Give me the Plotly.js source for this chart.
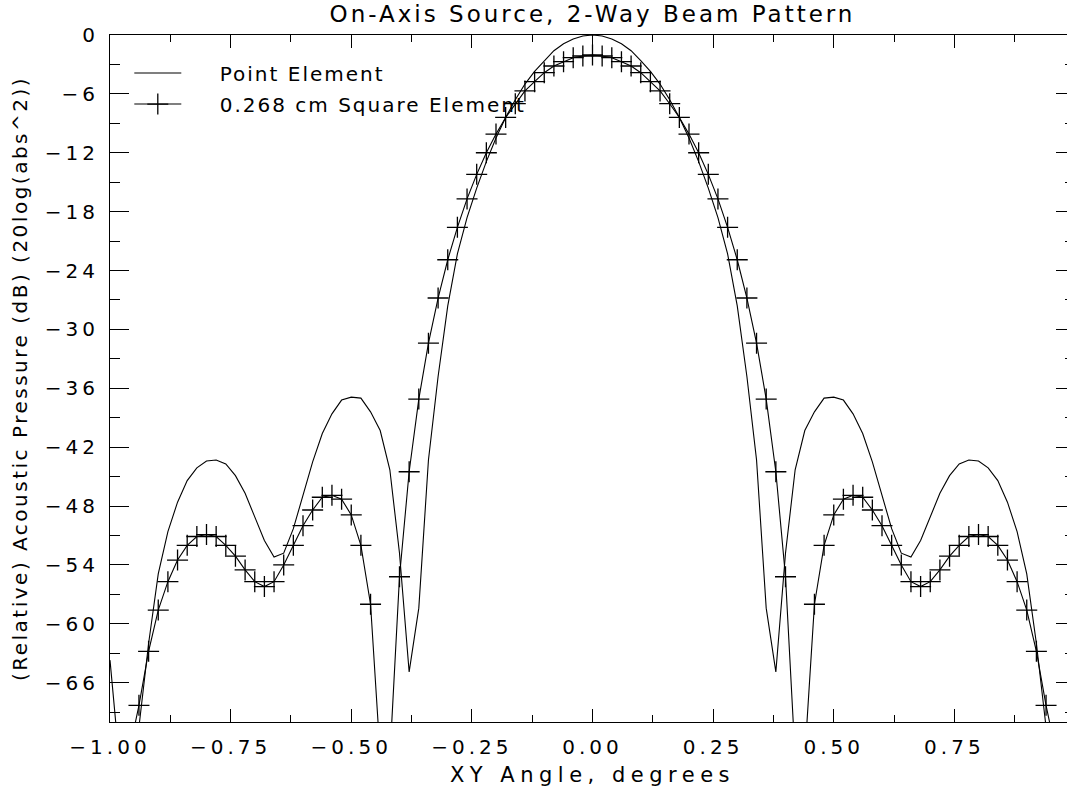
<!DOCTYPE html>
<html>
<head>
<meta charset="utf-8">
<script src="https://cdn.plot.ly/plotly-3.0.1.min.js"></script>
<style>
  html, body { margin: 0; padding: 0; overflow: hidden; background: #fff; }
  #chart { width: 1090px; height: 791px; }
  .gtitle { letter-spacing: 3px; }
  .xtitle { letter-spacing: 5.5px; }
  .ytitle { letter-spacing: 2.5px; }
  .legendtext { letter-spacing: 2px; }
  .xtick text, .ytick text { letter-spacing: 4px; }
</style>
</head>
<body>
<div id="chart"></div>
<script>
// XY angle samples (degrees)
const angles = [-1.00,-0.98,-0.96,-0.94,-0.92,-0.90,-0.88,-0.86,-0.84,-0.82,-0.80,-0.78,-0.76,-0.74,-0.72,-0.70,-0.68,-0.66,-0.64,-0.62,-0.60,-0.58,-0.56,-0.54,-0.52,-0.50,-0.48,-0.46,-0.44,-0.42,-0.40,-0.38,-0.36,-0.34,-0.32,-0.30,-0.28,-0.26,-0.24,-0.22,-0.20,-0.18,-0.16,-0.14,-0.12,-0.10,-0.08,-0.06,-0.04,-0.02,0.00,0.02,0.04,0.06,0.08,0.10,0.12,0.14,0.16,0.18,0.20,0.22,0.24,0.26,0.28,0.30,0.32,0.34,0.36,0.38,0.40,0.42,0.44,0.46,0.48,0.50,0.52,0.54,0.56,0.58,0.60,0.62,0.64,0.66,0.68,0.70,0.72,0.74,0.76,0.78,0.80,0.82,0.84,0.86,0.88,0.90,0.92,0.94,0.96,0.98,1.00];

// Point Element, relative dB
const pointElement = [-63.7,-75.8,-85.0,-70.5,-62.0,-54.9,-50.6,-47.6,-45.4,-44.1,-43.4,-43.3,-43.7,-44.9,-46.7,-49.1,-51.5,-53.2,-52.8,-50.3,-46.9,-43.5,-40.6,-38.6,-37.2,-36.9,-37.0,-38.4,-40.3,-44.3,-52.8,-64.9,-58.4,-43.3,-34.8,-27.6,-22.3,-18.6,-15.6,-12.9,-10.5,-8.4,-6.6,-5.0,-3.7,-2.6,-1.6,-0.9,-0.4,-0.1,0.0,-0.1,-0.4,-0.9,-1.6,-2.6,-3.7,-5.0,-6.6,-8.4,-10.5,-12.9,-15.6,-18.6,-22.3,-27.6,-34.8,-43.3,-58.4,-64.9,-52.8,-44.3,-40.3,-38.4,-37.0,-36.9,-37.2,-38.6,-40.6,-43.5,-46.9,-50.3,-52.8,-53.2,-51.5,-49.1,-46.7,-44.9,-43.7,-43.3,-43.4,-44.1,-45.4,-47.6,-50.6,-54.9,-62.0,-70.5,-85.0,-75.8,-63.7];

// 0.268 cm Square Element, relative dB
const squareElement = [-78.0,-80.0,-73.0,-68.3,-62.8,-58.6,-55.7,-53.5,-52.0,-51.1,-50.9,-51.1,-52.0,-53.1,-54.5,-55.7,-56.2,-55.7,-54.0,-52.0,-50.0,-48.4,-47.1,-46.9,-47.3,-48.9,-52.0,-58.0,-73.5,-73.7,-55.2,-44.5,-37.1,-31.4,-26.8,-22.9,-19.6,-16.7,-14.2,-12.0,-10.1,-8.4,-7.0,-5.7,-4.76,-3.84,-3.16,-2.72,-2.31,-2.14,-2.04,-2.14,-2.31,-2.72,-3.16,-3.84,-4.76,-5.7,-7.0,-8.4,-10.1,-12.0,-14.2,-16.7,-19.6,-22.9,-26.8,-31.4,-37.1,-44.5,-55.2,-73.7,-73.5,-58.0,-52.0,-48.9,-47.3,-46.9,-47.1,-48.4,-50.0,-52.0,-54.0,-55.7,-56.2,-55.7,-54.5,-53.1,-52.0,-51.1,-50.9,-51.1,-52.0,-53.5,-55.7,-58.6,-62.8,-68.3,-73.0,-80.0,-78.0];

const xTickVals = [-1.00,-0.75,-0.50,-0.25,0.00,0.25,0.50,0.75];
const yTickVals = [0,-6,-12,-18,-24,-30,-36,-42,-48,-54,-60,-66];

const seriesNames = ['Point Element', '0.268 cm Square Element'];

const FONT = 'DejaVu Sans, sans-serif';
const PAD = '\u00a0\u00a0\u00a0\u00a0';

const traces = [
  {
    x: angles, y: pointElement, name: PAD + seriesNames[0], legendgroup: 'a',
    type: 'scatter', mode: 'lines',
    line: {color: '#000', width: 1.1}
  },
  {
    x: angles, y: squareElement, name: PAD + seriesNames[1], legendgroup: 'b',
    type: 'scatter', mode: 'lines+markers',
    line: {color: '#000', width: 1.1},
    marker: {symbol: 'cross-thin', size: 15, color: '#000', line: {color: '#000', width: 1.3}}
  }
];

const layout = {
  width: 1090, height: 791,
  margin: {l: 110, r: 15, t: 35, b: 69},
  paper_bgcolor: '#fff', plot_bgcolor: '#fff',
  font: {family: FONT, color: '#000', size: 18},
  title: {
    text: 'On-Axis Source, 2-Way Beam Pattern',
    font: {family: FONT, size: 23, color: '#000'},
    x: 0.5, xref: 'paper', xanchor: 'center',
    y: 1 - 14/791, yref: 'container', yanchor: 'middle'
  },
  showlegend: true,
  legend: {
    x: 0.020, y: 0.973, xanchor: 'left', yanchor: 'top',
    bgcolor: 'rgba(0,0,0,0)', borderwidth: 0,
    itemwidth: 47,
    traceorder: 'grouped', tracegroupgap: 2,
    font: {family: FONT, size: 20, color: '#000'}
  },
  xaxis: {
    range: [-1, 1], showgrid: false, zeroline: false,
    showline: true, linecolor: '#000', linewidth: 1, mirror: 'ticks',
    tickmode: 'array', tickvals: xTickVals, tickformat: '.2f',
    ticks: 'inside', ticklen: 13, tickwidth: 1, tickcolor: '#000',
    ticklabelstandoff: 7,
    tickfont: {family: FONT, size: 20, color: '#000'},
    minor: {tickmode: 'linear', tick0: -1, dtick: 0.125, ticks: 'inside', ticklen: 7, tickwidth: 1, tickcolor: '#000', showgrid: false},
    title: {text: 'XY Angle, degrees', font: {family: FONT, size: 21, color: '#000'}, standoff: 9}
  },
  yaxis: {
    range: [-70, 0], showgrid: false, zeroline: false,
    showline: true, linecolor: '#000', linewidth: 1, mirror: 'ticks',
    tickmode: 'array', tickvals: yTickVals,
    ticks: 'inside', ticklen: 19, tickwidth: 1, tickcolor: '#000',
    ticklabelstandoff: 6,
    tickfont: {family: FONT, size: 20, color: '#000'},
    minor: {tickmode: 'linear', tick0: 0, dtick: 3, ticks: 'inside', ticklen: 10, tickwidth: 1, tickcolor: '#000', showgrid: false},
    title: {text: '\u00a0\u00a0\u00a0(Relative) Acoustic Pressure (dB) (20log(abs^2))', font: {family: FONT, size: 20, color: '#000'}, standoff: 11}
  }
};

Plotly.newPlot('chart', traces, layout, {displayModeBar: false, staticPlot: true});
</script>
</body>
</html>
